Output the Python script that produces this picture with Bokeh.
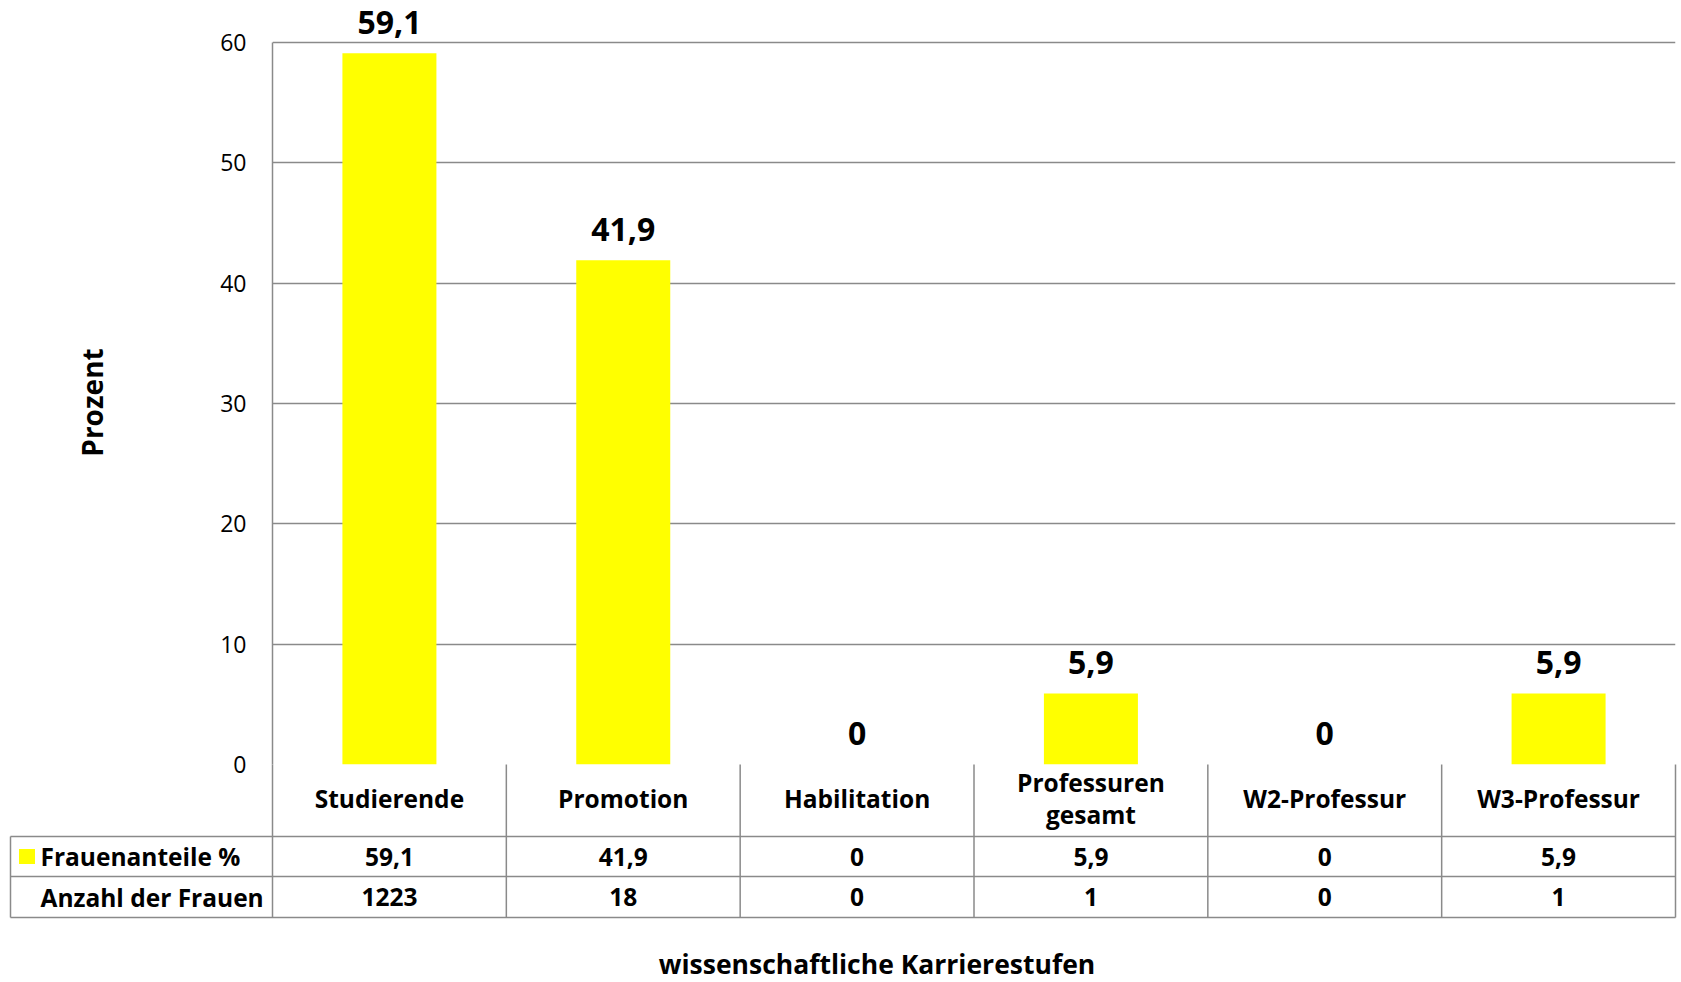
from bokeh.plotting import figure
from bokeh.models import Range1d, FixedTicker, ColumnDataSource
from bokeh.core.properties import value
from bokeh.embed import file_html
from bokeh.resources import INLINE

# ---------------- data ----------------
categories = ["Studierende", "Promotion", "Habilitation", "Professuren\ngesamt",
              "W2-Professur", "W3-Professur"]
frauenanteile = [59.1, 41.9, 0, 5.9, 0, 5.9]
anzahl_frauen = [1223, 18, 0, 1, 0, 1]
row_labels = ["Frauenanteile %", "Anzahl der Frauen"]
y_ticks = [0, 10, 20, 30, 40, 50, 60]
x_title = "wissenschaftliche Karrierestufen"
y_title = "Prozent"


def fmt(v):
    return f"{v:g}".replace(".", ",")


# ---------------- layout constants ----------------
FONT = "Open Sans"
GRAY = "#8a8a8a"
YELLOW = "#FFFF00"
W, H = 1679, 980
LEFT, RIGHT, TOP = 272, 4, 40
unit_px = 722 / (y_ticks[-1] - y_ticks[0])
top_pad = 2 / unit_px            # room so the 60-gridline is not cut by the frame edge
frame_h = 724
BOTTOM = H - TOP - frame_h
frame_w = W - LEFT - RIGHT
n = len(categories)
col_px = frame_w / n

# table geometry in pixels -> data units
header_h = 72 / unit_px
row_h = [40 / unit_px, 41 / unit_px]
label_col = 262 / col_px
title_y = -199 / unit_px
title_x = -97 / col_px + n / 2

p = figure(width=W, height=H, output_backend="svg", toolbar_location=None,
           x_range=Range1d(0, n), y_range=Range1d(y_ticks[0], y_ticks[-1] + top_pad),
           min_border_left=LEFT, min_border_right=RIGHT,
           min_border_top=TOP, min_border_bottom=BOTTOM)
p.outline_line_color = None
p.background_fill_color = "white"
p.border_fill_color = "white"

centers = [i + 0.5 for i in range(n)]

# bars
src = ColumnDataSource(dict(x=centers, top=frauenanteile,
                            lab=[fmt(v) for v in frauenanteile]))
p.vbar(x="x", top="top", width=0.402, source=src, fill_color=YELLOW, line_color=None)

# data labels above bars
p.text(x="x", y="top", text="lab", source=src, y_offset=-31,
       text_font=value(FONT), text_font_style="bold", text_font_size="32px",
       text_align="center", text_baseline="alphabetic", text_color="black",
       level="overlay")

# y axis
yax = p.yaxis[0]
yax.ticker = FixedTicker(ticks=y_ticks)
yax.bounds = (y_ticks[0], y_ticks[-1])
yax.axis_line_color = GRAY
yax.axis_line_width = 1.5
yax.major_tick_out = 0
yax.major_tick_in = 0
yax.minor_tick_out = 0
yax.minor_tick_in = 0
yax.major_label_standoff = 26
yax.major_label_text_font = FONT
yax.major_label_text_font_size = "23px"
yax.major_label_text_color = "black"
yax.axis_label = y_title
yax.axis_label_text_font = FONT
yax.axis_label_text_font_style = "bold"
yax.axis_label_text_font_size = "28px"
yax.axis_label_text_color = "black"
yax.axis_label_standoff = 106

p.xaxis.visible = False

# grid
p.xgrid.visible = False
p.ygrid.ticker = FixedTicker(ticks=y_ticks)
p.ygrid.grid_line_color = GRAY
p.ygrid.grid_line_width = 1.5

# ---------------- data table below the plot ----------------
y_h = -header_h
y_r1 = y_h - row_h[0]
y_r2 = y_r1 - row_h[1]

x0s, y0s, x1s, y1s = [], [], [], []
for yy in [y_h, y_r1, y_r2]:
    x0s.append(-label_col); x1s.append(n); y0s.append(yy); y1s.append(yy)
for i in range(0, n + 1):
    x0s.append(i); x1s.append(i); y0s.append(0); y1s.append(y_r2)
x0s.append(-label_col); x1s.append(-label_col); y0s.append(y_h); y1s.append(y_r2)
p.segment(x0=x0s, y0=y0s, x1=x1s, y1=y1s, line_color=GRAY, line_width=1.5,
          level="overlay")

TXT = dict(text_font=value(FONT), text_font_style="bold", text_font_size="24.5px",
           text_color="black", text_baseline="middle", level="overlay")

# header texts (category names)
p.text(x=centers, y=[y_h / 2] * n, text=categories, text_align="center",
       text_line_height=0.95, y_offset=-2, **TXT)

# value rows
rows = [[fmt(v) for v in frauenanteile], [str(v) for v in anzahl_frauen]]
row_mid = [(y_h + y_r1) / 2, (y_r1 + y_r2) / 2]
for vals, ym in zip(rows, row_mid):
    p.text(x=centers, y=[ym] * n, text=vals, text_align="center", **TXT)

# row labels
p.text(x=[-label_col] * 2, y=row_mid, text=row_labels, x_offset=30,
       text_align="left", **TXT)

# legend key for the bar series
p.rect(x=[-label_col + 16.5 / col_px], y=[row_mid[0]], width=16, height=15,
       width_units="screen", height_units="screen",
       fill_color=YELLOW, line_color=None, level="overlay")

# x axis title
p.text(x=[title_x], y=[title_y], text=[x_title], text_align="center",
       text_baseline="middle", text_font=value(FONT), text_font_style="bold",
       text_font_size="26.5px", text_color="black", level="overlay")

open("out.html", "w").write(file_html(p, INLINE))
